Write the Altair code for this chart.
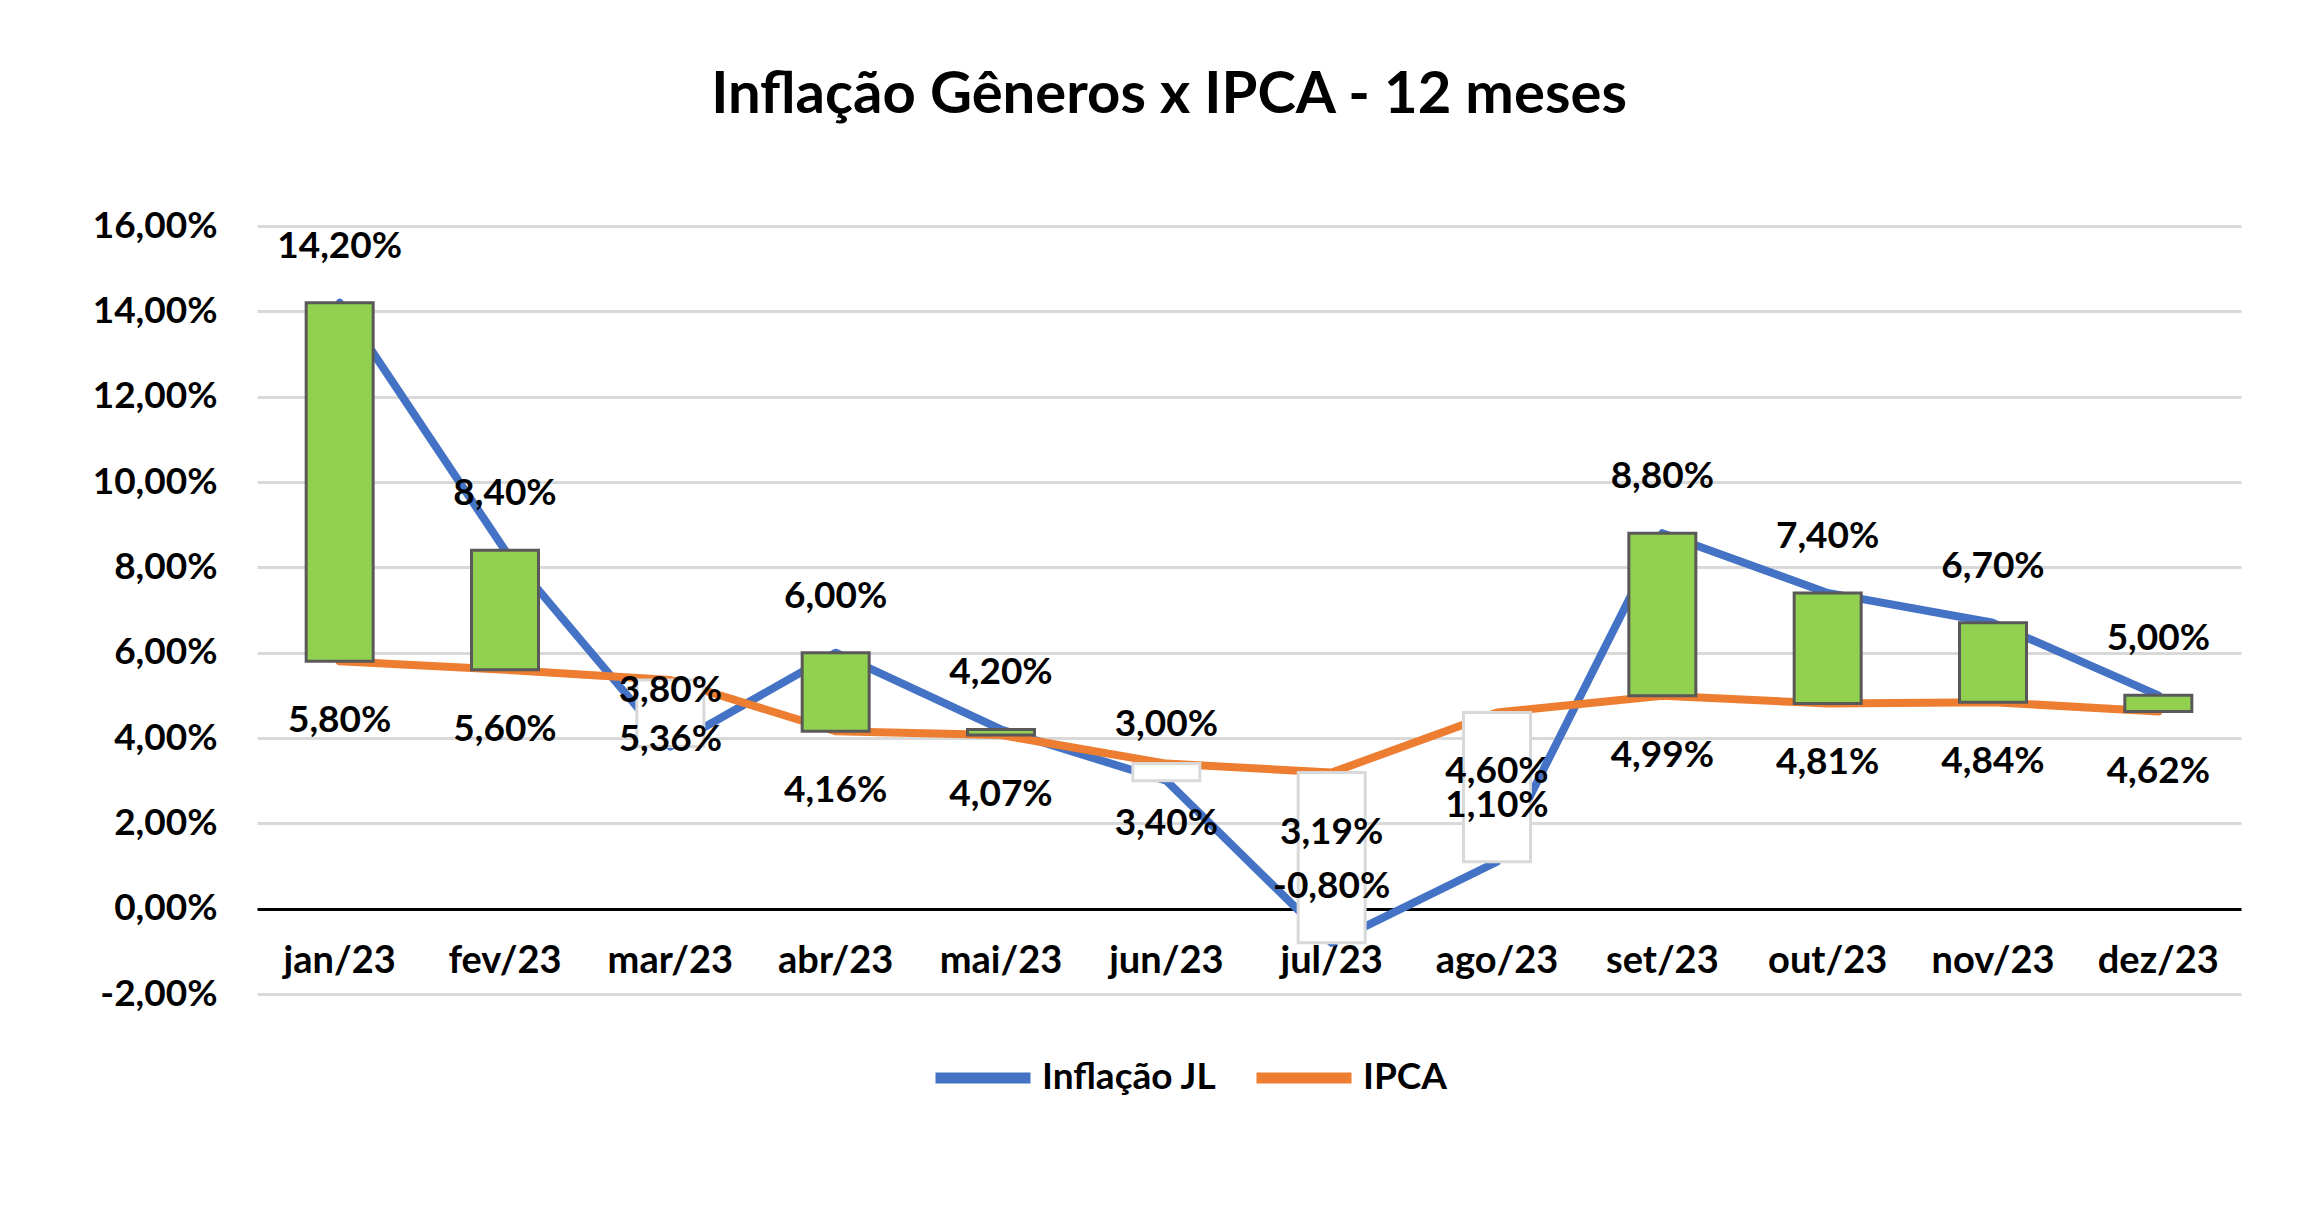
import altair as alt
import pandas as pd

months = ["jan/23", "fev/23", "mar/23", "abr/23", "mai/23", "jun/23",
          "jul/23", "ago/23", "set/23", "out/23", "nov/23", "dez/23"]
inflacao_jl = [14.20, 8.40, 3.80, 6.00, 4.20, 3.00, -0.80, 1.10, 8.80, 7.40, 6.70, 5.00]
ipca = [5.80, 5.60, 5.36, 4.16, 4.07, 3.40, 3.19, 4.60, 4.99, 4.81, 4.84, 4.62]
series_names = ["Inflação JL", "IPCA"]
series_colors = ["#4472C4", "#ED7D31"]
y_ticks = [-2, 0, 2, 4, 6, 8, 10, 12, 14, 16]
title_text = "Inflação Gêneros x IPCA - 12 meses"


def fmt(v):
    return f"{v:.2f}".replace(".", ",") + "%"


wide = pd.DataFrame({"mes": months, "jl": inflacao_jl, "ipca": ipca})
wide["jl_txt"] = [fmt(v) for v in inflacao_jl]
wide["ipca_txt"] = [fmt(v) for v in ipca]

long = pd.concat([
    pd.DataFrame({"mes": months, "serie": series_names[0], "valor": inflacao_jl}),
    pd.DataFrame({"mes": months, "serie": series_names[1], "valor": ipca}),
])

FONT = "Lato"
FS = 37

x_enc = alt.X(
    "mes:N", sort=months,
    scale=alt.Scale(paddingInner=0, paddingOuter=0),
    axis=alt.Axis(title=None, labelAngle=0, ticks=False, domain=False, grid=False,
                  labelFont=FONT, labelFontSize=38, labelFontWeight="bold",
                  labelColor="black", labelPadding=0, offset=-52),
)

y_scale = alt.Scale(domain=[-2, 16], nice=False, zero=False)
y_axis = alt.Axis(
    title=None, values=y_ticks,
    labelExpr="replace(replace(format(datum.value, '.2f'), '.', ','), '\u2212', '-') + '%'",
    ticks=False, domain=False, labelPadding=40,
    labelFont=FONT, labelFontSize=FS, labelFontWeight="bold", labelColor="black",
    gridColor={"condition": {"test": "datum.value === 0", "value": "black"}, "value": "#D9D9D9"},
    gridWidth=3,
)

lines = alt.Chart(long).mark_line(strokeWidth=8, strokeCap="round", strokeJoin="round").encode(
    x=x_enc,
    y=alt.Y("valor:Q", scale=y_scale, axis=y_axis),
    color=alt.Color(
        "serie:N", sort=series_names,
        scale=alt.Scale(domain=series_names, range=series_colors),
        legend=alt.Legend(
            title=None, orient="none", legendX=673, legendY=799,
            direction="horizontal", symbolType="stroke", symbolSize=9025,
            symbolStrokeWidth=11, labelFont=FONT, labelFontSize=FS,
            labelFontWeight="bold", labelColor="black", labelOffset=6,
            labelLimit=500, columnPadding=17,
        ),
    ),
)

up = "datum.jl > datum.ipca"
bars = alt.Chart(wide).mark_bar(size=67, strokeWidth=3).encode(
    x=x_enc,
    y=alt.Y("jl:Q", scale=y_scale),
    y2="ipca:Q",
    fill=alt.condition(up, alt.value("#92D050"), alt.value("white")),
    stroke=alt.condition(up, alt.value("#595959"), alt.value("#D9D9D9")),
)

lab_jl = alt.Chart(wide).mark_text(
    dy=-56, font=FONT, fontSize=FS, fontWeight="bold", color="black", baseline="middle"
).encode(x=x_enc, y=alt.Y("jl:Q", scale=y_scale), text="jl_txt:N")

lab_ipca = alt.Chart(wide).mark_text(
    dy=60, font=FONT, fontSize=FS, fontWeight="bold", color="black", baseline="middle"
).encode(x=x_enc, y=alt.Y("ipca:Q", scale=y_scale), text="ipca_txt:N")

chart = alt.layer(lines, bars, lab_jl, lab_ipca).properties(
    width=1984, height=768,
    title=alt.TitleParams(title_text, font=FONT, fontSize=58, fontWeight="bold",
                          color="black", anchor="middle", dx=-80, offset=82),
    padding={"left": 249, "top": 218, "right": 60, "bottom": 190},
    autosize="none",
).configure(background="white").configure_view(stroke=None)

chart.save("out.html", embed_options={"renderer": "svg", "actions": False})
